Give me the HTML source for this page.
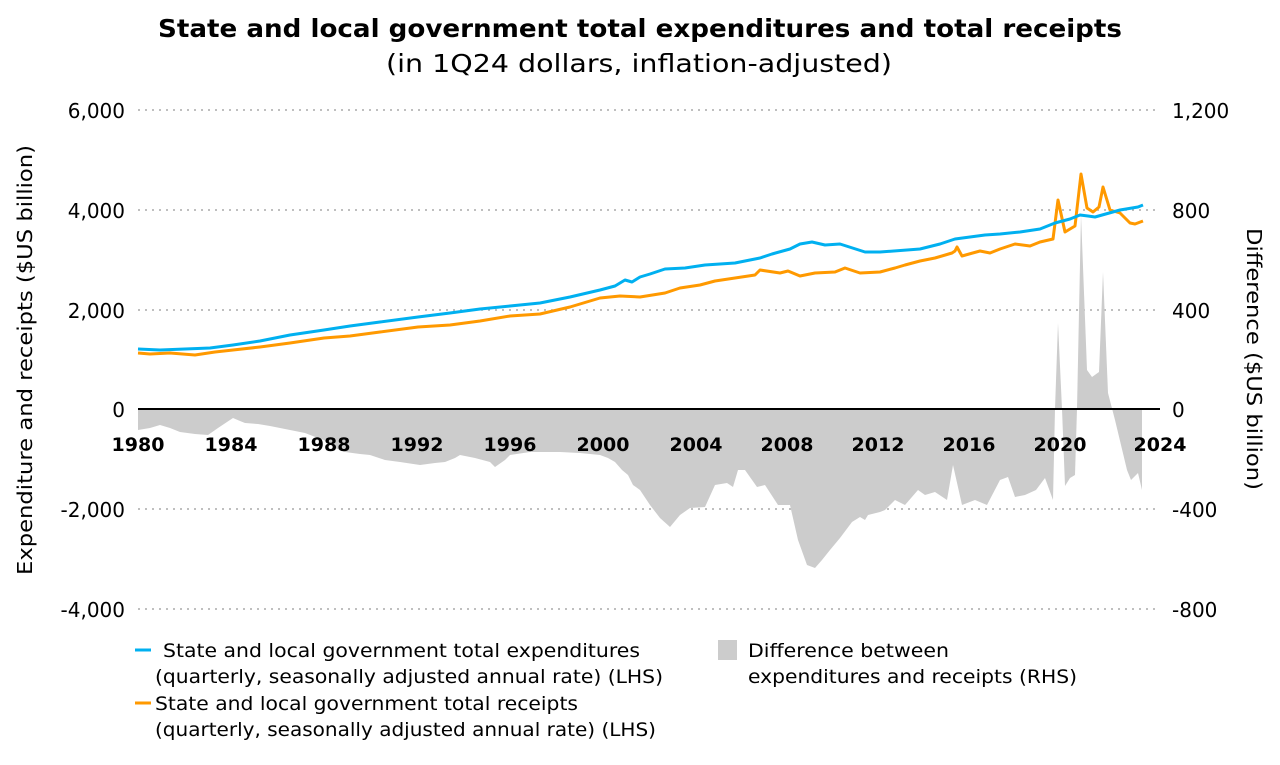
<!DOCTYPE html>
<html><head><style>
body{margin:0;background:#fff;}
svg text{font-family:"DejaVu Sans","Liberation Sans",sans-serif;}
</style></head><body>
<svg width="1280" height="760" viewBox="0 0 1280 760" xmlns="http://www.w3.org/2000/svg">
<text x="158" y="37" font-size="25" font-weight="bold" fill="#000" textLength="964" lengthAdjust="spacingAndGlyphs">State and local government total expenditures and total receipts</text>
<text x="386" y="72" font-size="25" fill="#000" textLength="506" lengthAdjust="spacingAndGlyphs">(in 1Q24 dollars, inflation-adjusted)</text>
<g stroke="#aaa" stroke-width="1.5" stroke-dasharray="2,5">
<line x1="138" y1="110" x2="1160" y2="110"/><line x1="138" y1="210" x2="1160" y2="210"/>
<line x1="138" y1="310" x2="1160" y2="310"/><line x1="138" y1="509" x2="1160" y2="509"/>
<line x1="138" y1="609" x2="1160" y2="609"/></g>
<polygon fill="#cccccc" points="138,409 138,430 150,428 160,425 170,428 180,432 195,434 208,435 218,428 233,418 240,421 245,423 258,424 270,426 290,430 305,433 318,438 324,440 335,448 345,452 360,454 370,455 385,460 400,462 420,465 435,463 445,462 455,458 460,455 475,458 490,462 495,467 505,460 510,455 530,452 560,452 580,453 600,455 608,458 615,462 622,470 628,475 633,485 640,490 650,505 660,518 670,527 680,515 690,508 705,507 715,485 727,483 733,487 738,470 745,470 757,487 765,485 778,505 790,505 798,540 807,565 815,568 822,560 830,550 840,538 852,522 860,517 865,520 868,515 880,512 885,510 895,500 905,505 918,490 925,495 935,492 947,500 953,465 962,505 975,500 987,505 1000,480 1008,477 1015,497 1025,495 1036,490 1045,478 1053,500 1055,409 1058,323 1062,409 1065,486 1070,478 1075,475 1077,409 1081,215 1087,370 1092,377 1099,372 1103,272 1108,393 1115,420 1127,470 1131,480 1138,473 1142,490 1142,409"/>
<line x1="138" y1="409" x2="1160" y2="409" stroke="#000" stroke-width="2"/>
<polyline fill="none" stroke="#ff9900" stroke-width="3" stroke-linejoin="round" points="138,353 150,354 170,353 195,355 215,352 233,350 260,347 290,343 324,338 350,336 380,332 418,327 450,325 480,321 510,316 540,314 570,307 600,298 620,296 640,297 665,293 680,288 700,285 715,281 735,278 755,275 760,270 780,273 788,271 800,276 815,273 835,272 845,268 860,273 880,272 895,268 905,265 920,261 935,258 952,253 955,251 957,247 962,256 980,251 990,253 1000,249 1015,244 1030,246 1040,242 1053,239 1058,200 1065,232 1075,226 1081,174 1087,208 1093,212 1099,207 1103,187 1110,210 1120,213 1130,223 1135,224 1143,221"/>
<polyline fill="none" stroke="#00b0f0" stroke-width="3" stroke-linejoin="round" points="138,349 160,350 185,349 210,348 233,345 260,341 290,335 324,330 350,326 380,322 418,317 450,313 480,309 510,306 540,303 570,297 600,290 615,286 625,280 632,282 640,277 650,274 665,269 685,268 705,265 735,263 760,258 772,254 790,249 800,244 812,242 825,245 840,244 865,252 880,252 920,249 940,244 955,239 985,235 1000,234 1020,232 1040,229 1055,223 1070,219 1080,215 1088,216 1095,217 1120,210 1138,207 1143,205"/>
<g font-size="20" text-anchor="end" fill="#000">
<text x="125" y="118">6,000</text><text x="125" y="218">4,000</text><text x="125" y="318">2,000</text>
<text x="125" y="417">0</text><text x="125" y="517">-2,000</text><text x="125" y="617">-4,000</text></g>
<g font-size="20" text-anchor="start" fill="#000">
<text x="1172" y="118">1,200</text><text x="1172" y="218">800</text><text x="1172" y="318">400</text>
<text x="1172" y="417">0</text><text x="1172" y="517">-400</text><text x="1172" y="617">-800</text></g>
<g font-size="19" font-weight="bold" text-anchor="middle" fill="#000">
<text x="138" y="451">1980</text><text x="231" y="451">1984</text><text x="324" y="451">1988</text>
<text x="417" y="451">1992</text><text x="510" y="451">1996</text><text x="603" y="451">2000</text>
<text x="696" y="451">2004</text><text x="787" y="451">2008</text><text x="878" y="451">2012</text>
<text x="969" y="451">2016</text><text x="1060" y="451">2020</text><text x="1160" y="451">2024</text></g>
<text transform="translate(32,575) rotate(-90)" font-size="20" textLength="430" lengthAdjust="spacingAndGlyphs">Expenditure and receipts ($US billion)</text>
<text transform="translate(1247,228) rotate(90)" font-size="20" textLength="262" lengthAdjust="spacingAndGlyphs">Difference ($US billion)</text>
<g font-size="19" fill="#000">
<line x1="135" y1="650" x2="151" y2="650" stroke="#00b0f0" stroke-width="3"/>
<text x="163" y="657" textLength="477" lengthAdjust="spacingAndGlyphs">State and local government total expenditures</text>
<text x="155" y="683" textLength="508" lengthAdjust="spacingAndGlyphs">(quarterly, seasonally adjusted annual rate) (LHS)</text>
<line x1="135" y1="703" x2="151" y2="703" stroke="#ff9900" stroke-width="3"/>
<text x="155" y="710" textLength="423" lengthAdjust="spacingAndGlyphs">State and local government total receipts</text>
<text x="155" y="736" textLength="501" lengthAdjust="spacingAndGlyphs">(quarterly, seasonally adjusted annual rate) (LHS)</text>
<rect x="718" y="640" width="19" height="20" fill="#cccccc"/>
<text x="748" y="657" textLength="201" lengthAdjust="spacingAndGlyphs">Difference between</text>
<text x="748" y="683" textLength="329" lengthAdjust="spacingAndGlyphs">expenditures and receipts (RHS)</text></g>
</svg>
</body></html>
